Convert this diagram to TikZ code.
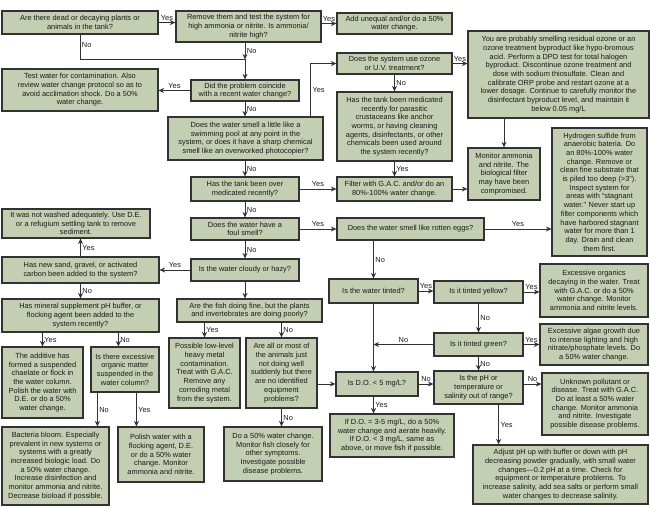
\documentclass[tikz,border=0pt]{standalone}
\usepackage{fontspec}
\setmainfont{Liberation Sans}
\usetikzlibrary{arrows.meta,calc}
\definecolor{boxfill}{RGB}{196,206,178}
\definecolor{edge}{RGB}{50,50,50}
\newcommand\fs{\fontsize{7.4}{8.7}\selectfont}
\newcommand\bx[6]{\node[box, minimum width={#4pt-#2pt}, minimum height={#5pt-#3pt}] (#1) at ({(#2+#4)/2},{(#3+#5)/2}) {#6};}
\begin{document}
\begin{tikzpicture}[x=1pt,y=-1pt,
  box/.style={draw=edge, fill=boxfill, line width=1.2pt, inner sep=0pt, align=center, font=\fs, text=black!90},
  arr/.style={draw=edge, line width=0.9pt, -{Stealth[length=5.5pt,width=5pt]}},
  line/.style={draw=edge, line width=0.9pt},
  lbl/.style={font=\fs, text=black!90, inner sep=1.5pt}]
\fill[white] (0,0) rectangle (650,506);
\useasboundingbox (0,0) rectangle (650,506);

\bx{b1}{2}{11}{158}{34}{Are there dead or decaying plants or\\animals in the tank?}
\bx{b2}{176}{11}{321}{42}{Remove them and test the system for\\high ammonia or nitrite. Is ammonia/\\nitrite high?}
\bx{b3}{337}{13}{452}{34}{Add unequal and/or do a 50\%\\water change.}
\bx{b4}{2}{69}{158}{111}{Test water for contamination. Also\\review water change protocol so as to\\avoid acclimation shock. Do a 50\%\\water change.}
\bx{b5}{191}{80}{299}{101}{Did the problem coincide\\with a recent water change?}
\bx{b6}{168}{117}{323}{160}{Does the water smell a little like a\\swimming pool at any point in the\\system, or does it have a sharp chemical\\smell like an overworked photocopier?}
\bx{b7}{337}{53}{452}{74}{Does the system use ozone\\or U.V. treatment?}
\bx{b8}{468}{31}{649}{118}{You are probably smelling residual ozone or an\\ozone treatment byproduct like hypo-bromous\\acid. Perform a DPD test for total halogen\\byproduct. Discontinue ozone treatment and\\dose with sodium thiosulfate. Clean and\\calibrate ORP probe and restart ozone at a\\lower dosage. Continue to carefully monitor the\\disinfectant byproduct level, and maintain it\\below 0.05 mg/L}
\bx{b9}{337}{92}{452}{161}{Has the tank been medicated\\recently for parasitic\\crustaceans like anchor\\worms, or having cleaning\\agents, disinfectants, or other\\chemicals been used around\\the system recently?}
\bx{b10}{191}{177}{299}{201}{Has the tank been over\\medicated recently?}
\bx{b11}{337}{177}{452}{201}{Filter with G.A.C. and/or do an\\80\%-100\% water change.}
\bx{b12}{468}{148}{540}{200}{Monitor ammonia\\and nitrite. The\\biological filter\\may have been\\compromised.}
\bx{b13}{191}{218}{299}{240}{Does the water have a\\foul smell?}
\bx{b14}{337}{218}{484}{240}{Does the water smell like rotten eggs?}
\bx{b15}{552}{128}{647}{256}{Hydrogen sulfide from\\anaerobic bateria. Do\\an 80\%-100\% water\\change. Remove or\\clean fine substrate that\\is piled too deep (>3").\\Inspect system for\\areas with “stagnant\\water.” Never start up\\filter components which\\have harbored stagnant\\water for more than 1\\day. Drain and clean\\them first.}
\bx{b16}{329}{279}{418}{303}{Is the water tinted?}
\bx{b17}{434}{281}{523}{303}{Is it tinted yellow?}
\bx{b18}{540}{264}{648}{317}{Excessive organics\\decaying in the water. Treat\\with G.A.C. or do a 50\%\\water change. Monitor\\ammonia and nitrite levels.}
\bx{b19}{434}{333}{523}{356}{Is it tinted green?}
\bx{b20}{540}{324}{648}{365}{Excessive algae growth due\\to intense lighting and high\\nitrate/phosphate levels. Do\\a 50\% water change.}
\bx{b21}{336}{372}{418}{396}{Is D.O. < 5 mg/L?}
\bx{b22}{434}{371}{523}{404}{Is the pH or\\temperature or\\salinity out of range?}
\bx{b23}{330}{414}{454}{457}{If D.O. = 3-5 mg/L, do a 50\%\\water change and aerate heavily.\\If D.O. < 3 mg/L, same as\\above, or move fish if possible.}
\bx{b24}{542}{373}{648}{435}{Unknown pollutant or\\disease. Treat with G.A.C.\\Do at least a 50\% water\\change. Monitor ammonia\\and nitrite. Investigate\\possible disease problems.}
\bx{b25}{473}{445}{648}{504}{Adjust pH up with buffer or down with pH\\decreasing powder gradually, with small water\\changes—0.2 pH at a time. Check for\\equipment or temperature problems. To\\increase salinity, add sea salts or perform small\\water changes to decrease salinity.}
\bx{b26}{2}{209}{150}{238}{It was not washed adequately. Use D.E.\\or a refugium settling tank to remove\\sediment.}
\bx{b27}{2}{257}{159}{283}{Has new sand, gravel, or activated\\carbon been added to the system?}
\bx{b28}{191}{259}{299}{281}{Is the water cloudy or hazy?}
\bx{b29}{177}{299}{322}{322}{Are the fish doing fine, but the plants\\and invertebrates are doing poorly?}
\bx{b30}{2}{299}{159}{332}{Has mineral supplement pH buffer, or\\flocking agent been added to the\\system recently?}
\bx{b31}{2}{347}{83}{418}{The additive has\\formed a suspended\\chaelate or flock in\\the water column.\\Polish the water with\\D.E. or do a 50\%\\water change.}
\bx{b32}{91}{347}{159}{392}{Is there excessive\\organic matter\\suspended in the\\water column?}
\bx{b33}{2}{427}{109}{505}{Bacteria bloom. Especially\\prevalent in new systems or\\systems with a greatly\\increased biologic load. Do\\a 50\% water change.\\Increase disinfection and\\monitor ammonia and nitrite.\\Decrease bioload if possible.}
\bx{b34}{118}{427}{204}{482}{Polish water with a\\flocking agent, D.E.\\or do a 50\% water\\change. Monitor\\ammonia and nitrite.}
\bx{b35}{169}{338}{240}{408}{Possible low-level\\heavy metal\\contamination.\\Treat with G.A.C.\\Remove any\\corroding metal\\from the system.}
\bx{b36}{246}{338}{317}{408}{Are all or most of\\the animals just\\not doing well\\suddenly but there\\are no identified\\equipment\\problems?}
\bx{b37}{224}{427}{322}{481}{Do a 50\% water change.\\Monitor fish closely for\\other symptoms.\\Investigate possible\\disease problems.}

% junctions
\coordinate (j1) at ($(b5.north)+(0,-20)$);
\coordinate (y6) at ($(b6.north east)+(-13,0)$);
\coordinate (y22) at ($(b22.south east)+(-25,0)$);
\coordinate (n30) at ($(b32.north west)+(28,0)$);
\coordinate (s32a) at ($(b32.south west)+(7,0)$);
\coordinate (s32b) at ($(b32.south west)+(46,0)$);

% connectors
\draw[arr] (b1.east) -- (b1.east -| b2.west) node[lbl,midway,above]{Yes};
\draw[arr] (b2.east |- b3.west) -- (b3.west) node[lbl,midway,above]{Yes};
\draw[line] (b1.south) |- (j1) node[lbl,pos=0.2,right]{No};
\draw[arr] (b2.south -| j1) -- (j1) node[lbl,midway,right]{No};
\draw[arr] (j1) -- (b5.north);
\draw[arr] (b5.west) -- (b5.west -| b4.east) node[lbl,midway,above]{Yes};
\draw[arr] (b5.south) -- (b5.south |- b6.north) node[lbl,midway,right]{No};
\draw[arr] (y6) |- (b7.west) node[lbl,pos=0.25,right]{Yes};
\draw[arr] (b7.east) -- (b7.east -| b8.west) node[lbl,midway,above]{Yes};
\draw[arr] (b7.south) -- (b7.south |- b9.north) node[lbl,midway,right]{No};
\draw[arr] (b9.south) -- (b9.south |- b11.north) node[lbl,midway,right]{Yes};
\draw[arr] (b11.east) -- (b11.east -| b12.west);
\draw[arr] (b8.south -| b12.north) -- (b12.north);
\draw[arr] (b6.south -| b10.north) -- (b10.north) node[lbl,midway,right]{No};
\draw[arr] (b10.east) -- (b10.east -| b11.west) node[lbl,midway,above]{Yes};
\draw[arr] (b10.south) -- (b10.south |- b13.north) node[lbl,midway,right]{No};
\draw[arr] (b13.east) -- (b13.east -| b14.west) node[lbl,midway,above]{Yes};
\draw[arr] (b14.east) -- (b14.east -| b15.west) node[lbl,midway,above]{Yes};
\draw[arr] (b16.north |- b14.south) -- (b16.north) node[lbl,midway,right]{No};
\draw[arr] (b16.east) -- (b16.east -| b17.west) node[lbl,midway,above]{Yes};
\draw[arr] (b17.east) -- (b17.east -| b18.west) node[lbl,midway,above]{Yes};
\draw[arr] (b17.south) -- (b17.south |- b19.north) node[lbl,midway,right]{No};
\draw[arr] (b19.east) -- (b19.east -| b20.west) node[lbl,midway,above]{Yes};
\draw[arr] (b19.west) -- (b19.west -| b16.south) node[lbl,midway,above]{No};
\draw[arr] (b19.south) -- (b19.south |- b22.north) node[lbl,midway,right]{No};
\draw[arr] (b16.south) -- (b16.south |- b21.north);
\draw[arr] (b21.east) -- (b21.east -| b22.west) node[lbl,midway,above]{No};
\draw[arr] (b21.south -| b16.south) -- (b23.north -| b16.south) node[lbl,midway,right]{Yes};
\draw[arr] (b21.east -| b22.east) -- (b21.east -| b24.west) node[lbl,midway,above]{No};
\draw[arr] (y22) -- (y22 |- b25.north) node[lbl,midway,right]{Yes};
\draw[arr] (b13.south) -- (b13.south |- b28.north) node[lbl,midway,right]{No};
\draw[arr] (b28.west) -- (b28.west -| b27.east) node[lbl,midway,above]{Yes};
\draw[arr] (b27.north) -- (b27.north |- b26.south) node[lbl,midway,right]{Yes};
\draw[arr] (b28.south) -- (b28.south |- b29.north);
\draw[arr] (b27.south) -- (b27.south |- b30.north) node[lbl,midway,right]{No};
\draw[arr] (b31.north |- b30.south) -- (b31.north) node[lbl,midway,right]{Yes};
\draw[arr] (n30 |- b30.south) -- (n30) node[lbl,midway,right]{No};
\draw[arr] (s32a) -- (s32a |- b33.north) node[lbl,midway,right]{No};
\draw[arr] (s32b) -- (s32b |- b34.north) node[lbl,midway,right]{Yes};
\draw[arr] (b35.north |- b29.south) -- (b35.north) node[lbl,midway,right]{Yes};
\draw[arr] (b36.north |- b29.south) -- (b36.north) node[lbl,midway,right]{No};
\draw[arr] (b36.east |- b21.west) -- (b21.west);
\draw[arr] (b36.south) -- (b36.south |- b37.north) node[lbl,midway,right]{No};
\end{tikzpicture}
\end{document}
